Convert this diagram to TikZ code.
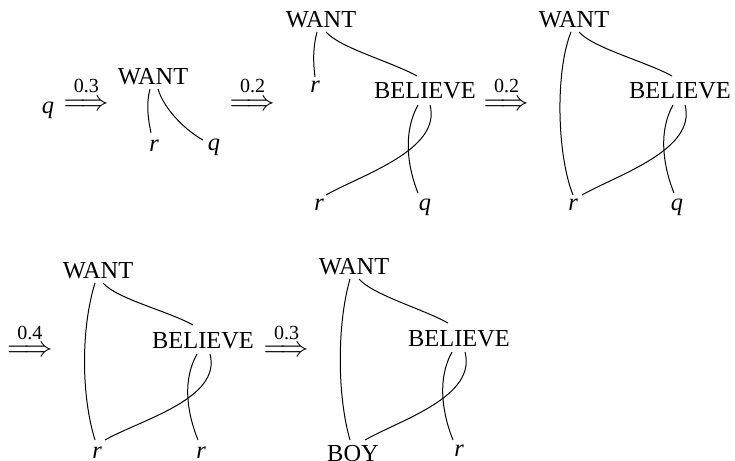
\documentclass[tikz,border=0pt]{standalone}
\usepackage{fontspec}
\setmainfont{Liberation Serif}
\usetikzlibrary{calc}

\begin{document}
\begin{tikzpicture}[x=0.5pt, y=-0.5pt, line width=0.5pt,
  word/.style={inner sep=0pt, anchor=base, font=\fontsize{12.2}{14}\selectfont},
  var/.style={word, font=\fontsize{12.2}{14}\selectfont\itshape},
  yields/.style={inner sep=0pt, anchor=base, scale=1.42},
  prob/.style={inner sep=0pt, anchor=base, font=\fontsize{10}{12}\selectfont}]
  \useasboundingbox (0,0) rectangle (735,461);
  % derivation arrows
  \foreach \n/\x/\y/\ly/\p in {a1/86.5/110/92.5/0.3, a2/252.5/110/92.5/0.2,
      a3/506.5/110/92.5/0.2, a4/30/356/339.5/0.4, a5/286.5/356/339.5/0.3} {
    \node[yields] (\n) at (\x,\y) {$\Longrightarrow$};
    \node[prob] (\n-p) at (\x,\ly) {\p};
  }
  % step 1
  \node[var] (q0) at (48,113) {q};
  \node[word] (w1) at (153,84) {WANT};
  \node[var] (r1) at (154,151) {r};
  \node[var] (q1) at (214,150) {q};
  \draw ($(w1.base)+(-3,5)$) .. controls +(-4,15) and +(-3,-15) .. ($(r1.base)+(-3,-18)$);
  \draw ($(w1.base)+(5,5)$) .. controls +(6,20) and +(-18,-10) .. ($(q1.base)+(-11,-10)$);
  % step 2
  \node[word] (w2) at (321,27) {WANT};
  \node[var] (r2a) at (315,92) {r};
  \node[word] (b2) at (425,98) {BELIEVE};
  \node[var] (r2b) at (319,210) {r};
  \node[var] (q2) at (425,210) {q};
  \draw ($(w2.base)+(-4,5)$) .. controls +(-4,15) and +(-2,-15) .. ($(r2a.base)+(0,-15)$);
  \draw ($(w2.base)+(5,5)$) .. controls +(14,16) and +(-25,-14) .. ($(b2.base)+(-8,-22)$);
  \draw ($(b2.base)+(-7,7)$) .. controls +(-14,25) and +(-12,-30) .. ($(q2.base)+(-7,-17)$);
  \draw ($(b2.base)+(5,7)$) .. controls +(12,45) and +(35,-20) .. ($(r2b.base)+(7,-15)$);
  % step 3
  \node[word] (w3) at (574,27) {WANT};
  \node[word] (b3) at (680,98) {BELIEVE};
  \node[var] (r3) at (573,210) {r};
  \node[var] (q3) at (677,210) {q};
  \draw ($(w3.base)+(-3,5)$) .. controls +(-16,40) and +(-16,-40) .. ($(r3.base)+(0,-15)$);
  \draw ($(w3.base)+(5,5)$) .. controls +(14,16) and +(-25,-14) .. ($(b3.base)+(-8,-22)$);
  \draw ($(b3.base)+(-7,7)$) .. controls +(-14,25) and +(-12,-30) .. ($(q3.base)+(-3,-17)$);
  \draw ($(b3.base)+(5,7)$) .. controls +(12,45) and +(35,-20) .. ($(r3.base)+(9,-15)$);
  % step 4
  \node[word] (w4) at (98,278) {WANT};
  \node[word] (b4) at (203,348) {BELIEVE};
  \node[var] (r4a) at (97,458) {r};
  \node[var] (r4b) at (201,458) {r};
  \draw ($(w4.base)+(-3,5)$) .. controls +(-14,45) and +(-14,-45) .. ($(r4a.base)+(-2,-18)$);
  \draw ($(w4.base)+(5,5)$) .. controls +(14,16) and +(-25,-14) .. ($(b4.base)+(-10,-23)$);
  \draw ($(b4.base)+(-6,6)$) .. controls +(-14,25) and +(-12,-30) .. ($(r4b.base)+(-3,-18)$);
  \draw ($(b4.base)+(7,6)$) .. controls +(12,45) and +(35,-20) .. ($(r4a.base)+(8,-18)$);
  % step 5
  \node[word] (w5) at (354,274) {WANT};
  \node[word] (b5) at (459,346) {BELIEVE};
  \node[word] (boy) at (353,461) {BOY};
  \node[var] (r5) at (459,456) {r};
  \draw ($(w5.base)+(-4,5)$) .. controls +(-13,45) and +(-13,-45) .. ($(boy.base)+(-3,-21)$);
  \draw ($(w5.base)+(5,5)$) .. controls +(14,16) and +(-25,-14) .. ($(b5.base)+(-11,-23)$);
  \draw ($(b5.base)+(-7,6)$) .. controls +(-14,25) and +(-12,-30) .. ($(r5.base)+(-6,-16)$);
  \draw ($(b5.base)+(6,6)$) .. controls +(12,45) and +(35,-20) .. ($(boy.base)+(12,-21)$);
\end{tikzpicture}
\end{document}
